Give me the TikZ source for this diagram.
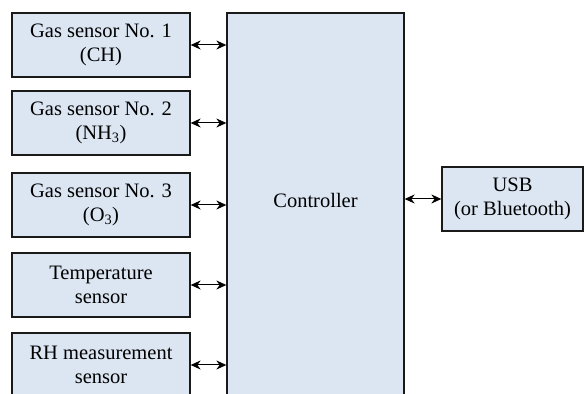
\documentclass[tikz,border=0pt]{standalone}
\usepackage{fontspec}
\newfontfamily\diagfont{LiberationSerif}[Extension=.ttf,UprightFont=*-Regular,BoldFont=*-Bold]
\usetikzlibrary{arrows.meta}
\definecolor{boxfill}{HTML}{DCE6F2}
\definecolor{boxline}{HTML}{1A1A1A}
\begin{document}
\begin{tikzpicture}[x=1pt,y=1pt,
  blk/.style={draw=boxline,line width=1.3pt,fill=boxfill,minimum width=178pt,minimum height=64pt,inner sep=0pt,align=center,font=\diagfont\fontsize{20.5}{23.5}\selectfont},
  lbl/.style={align=center,font=\diagfont\fontsize{20.5}{23.5}\selectfont},
  link/.style={{Stealth[length=10pt,width=9pt]}-{Stealth[length=10pt,width=9pt]},line width=1pt,black}]
\useasboundingbox (0,0) rectangle (587,394);
\clip (0,0) rectangle (587,394);
\node[blk] (s1) at (101,349) {Gas sensor No. 1\\(CH)};
\node[blk] (s2) at (101,271) {Gas sensor No. 2\\(NH\textsubscript{3})};
\node[blk] (s3) at (101,189) {Gas sensor No. 3\\(O\textsubscript{3})};
\node[blk] (s4) at (101,109) {Temperature\\sensor};
\node[blk] (s5) at (101,29) {RH measurement\\sensor};
\node[blk,minimum width=177pt,minimum height=420pt] (ctrl) at (315.5,171) {};
\node[lbl] (ctrltext) at (315.5,194) {Controller};
\node[blk,minimum width=141pt] (usb) at (512.5,195) {USB\\(or Bluetooth)};
\foreach \s in {s1,s2,s3,s4,s5}{
  \draw[link] (\s.east) -- (\s.east -| ctrl.west);
}
\draw[link] (usb.west -| ctrl.east) -- (usb.west);
\end{tikzpicture}
\end{document}
